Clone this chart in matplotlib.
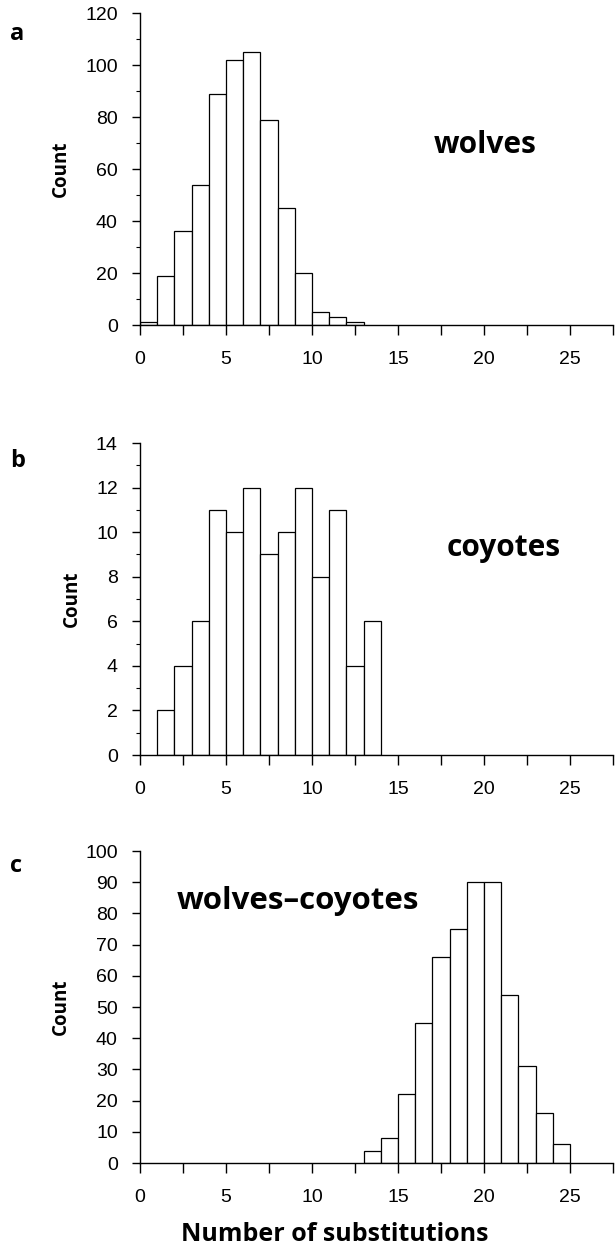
import matplotlib.pyplot as plt
import numpy as np
from matplotlib.ticker import MultipleLocator

# histogram data: left edge of each 1-wide bin and the count in it
wolves_bins = [0, 1, 2, 3, 4, 5, 6, 7, 8, 9, 10, 11, 12]
wolves_counts = [1, 19, 36, 54, 89, 102, 105, 79, 45, 20, 5, 3, 1]

coyotes_bins = [1, 2, 3, 4, 5, 6, 7, 8, 9, 10, 11, 12, 13]
coyotes_counts = [2, 4, 6, 11, 10, 12, 9, 10, 12, 8, 11, 4, 6]

between_bins = [13, 14, 15, 16, 17, 18, 19, 20, 21, 22, 23, 24]
between_counts = [4, 8, 22, 45, 66, 75, 90, 90, 54, 31, 16, 6]

x_ticks = [0, 2.5, 5, 7.5, 10, 12.5, 15, 17.5, 20, 22.5, 25, 27.5]
x_ticklabels = ["0", "", "5", "", "10", "", "15", "", "20", "", "25", ""]

TICK_FONT = "Liberation Sans"
LABEL_FONT = "Open Sans"

W, H = 615, 1248
fig = plt.figure(figsize=(W / 100, H / 100), dpi=100)


def px_axes(left, right, top, bottom):
    """Axes from pixel coordinates of the reference"""
    return fig.add_axes([left / W, 1 - bottom / H, (right - left) / W, (bottom - top) / H])


def draw_panel(ax, bins, counts, ymax, ystep, yminor):
    ax.bar(bins, counts, width=1, align="edge", color="white",
           edgecolor="black", linewidth=0.9)
    ax.set_xlim(0, 27.5)
    ax.set_ylim(0, ymax)
    ax.spines["top"].set_visible(False)
    ax.spines["right"].set_visible(False)
    for s in ("left", "bottom"):
        ax.spines[s].set_linewidth(1.0)
    ax.set_xticks(x_ticks)
    ax.set_xticklabels(x_ticklabels, family=TICK_FONT, fontsize=14)
    ax.yaxis.set_major_locator(MultipleLocator(ystep))
    if yminor:
        ax.yaxis.set_minor_locator(MultipleLocator(yminor))
    for lab in ax.get_yticklabels():
        lab.set_family(TICK_FONT)
        lab.set_fontsize(14)
    ax.tick_params(axis="x", direction="out", length=7, width=1.0, pad=12)
    ax.tick_params(axis="y", which="major", direction="out", length=6, width=1.0, pad=10)
    ax.tick_params(axis="y", which="minor", direction="out", length=3, width=0.8)
    ax.set_ylabel("Count", family=LABEL_FONT, fontweight="bold", fontsize=13.5, labelpad=10)


ax_a = px_axes(140, 613, 13, 325)
draw_panel(ax_a, wolves_bins, wolves_counts, 120, 20, 10)

ax_b = px_axes(140, 613, 443, 755)
draw_panel(ax_b, coyotes_bins, coyotes_counts, 14, 2, 1)

ax_c = px_axes(140, 613, 851, 1163)
draw_panel(ax_c, between_bins, between_counts, 100, 10, None)

# group names inside the panels
fig.text(485 / W, 1 - 153 / H, "wolves", family=LABEL_FONT, fontweight="bold",
         fontsize=21.5, ha="center", va="baseline")
fig.text(504 / W, 1 - 556 / H, "coyotes", family=LABEL_FONT, fontweight="bold",
         fontsize=21.5, ha="center", va="baseline")
fig.text(298 / W, 1 - 909 / H, "wolves\u2013coyotes", family=LABEL_FONT, fontweight="bold",
         fontsize=22.5, ha="center", va="baseline")

# panel letters
for letter, base in (("a", 40), ("b", 467), ("c", 872)):
    fig.text(10 / W, 1 - base / H, letter, family=LABEL_FONT, fontweight="bold",
             fontsize=17, ha="left", va="baseline")

fig.text(335 / W, 1 - 1241 / H, "Number of substitutions", family=LABEL_FONT,
         fontweight="bold", fontsize=18, ha="center", va="baseline")

plt.savefig("out.png", dpi=100)
plt.close()
